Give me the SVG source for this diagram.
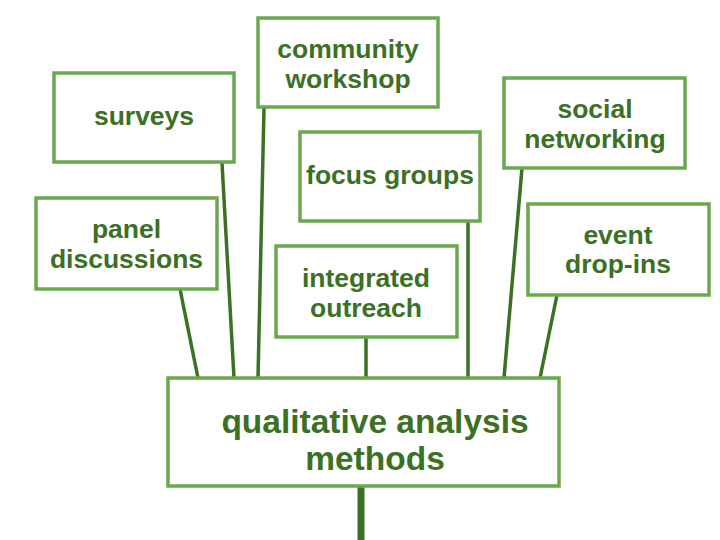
<svg xmlns="http://www.w3.org/2000/svg" width="720" height="540" viewBox="0 0 720 540">
<style>
.box{fill:#ffffff;stroke:#6aa84f;stroke-width:3.5}
.t{font-family:"Liberation Sans",Arial,sans-serif;font-weight:bold;font-size:26.5px;fill:#3b7025;text-anchor:middle}
.big{font-size:33.5px}
.c{stroke:#3b7025;stroke-width:3.5;fill:none}
.trunk{stroke:#3b7025;stroke-width:7;fill:none}
</style>
<rect width="720" height="540" fill="#ffffff"/>
<g id="connectors">
<line class="c" x1="222" y1="163" x2="234" y2="378"/>
<line class="c" x1="264" y1="108" x2="258" y2="378"/>
<line class="c" x1="180" y1="289" x2="198" y2="378"/>
<line class="c" x1="366" y1="337" x2="366" y2="378"/>
<line class="c" x1="468" y1="222" x2="468" y2="378"/>
<line class="c" x1="522" y1="168" x2="504" y2="378"/>
<line class="c" x1="557" y1="295" x2="540" y2="378"/>
<line class="trunk" x1="361" y1="486" x2="361" y2="540"/>
</g>
<g id="surveys">
<rect class="box" x="54" y="73" width="180" height="89"/>
<text class="t" x="144" y="125">surveys</text>
</g>
<g id="community-workshop">
<rect class="box" x="258" y="18" width="180" height="89"/>
<text class="t" x="348" y="58">community</text>
<text class="t" x="348" y="88">workshop</text>
</g>
<g id="focus-groups">
<rect class="box" x="300" y="132" width="180" height="89"/>
<text class="t" x="390" y="184">focus groups</text>
</g>
<g id="social-networking">
<rect class="box" x="504" y="78" width="181" height="90"/>
<text class="t" x="595" y="118">social</text>
<text class="t" x="595" y="148">networking</text>
</g>
<g id="panel-discussions">
<rect class="box" x="36" y="198" width="181" height="91"/>
<text class="t" x="126.5" y="238">panel</text>
<text class="t" x="126.5" y="268">discussions</text>
</g>
<g id="integrated-outreach">
<rect class="box" x="276" y="246" width="181" height="91"/>
<text class="t" x="366" y="287">integrated</text>
<text class="t" x="366" y="317">outreach</text>
</g>
<g id="event-drop-ins">
<rect class="box" x="528" y="204" width="181" height="91"/>
<text class="t" x="618" y="244">event</text>
<text class="t" x="618" y="273">drop-ins</text>
</g>
<g id="qualitative-analysis-methods">
<rect class="box" x="168" y="378" width="391" height="108"/>
<text class="t big" x="375" y="433">qualitative analysis</text>
<text class="t big" x="375" y="470">methods</text>
</g>
</svg>
